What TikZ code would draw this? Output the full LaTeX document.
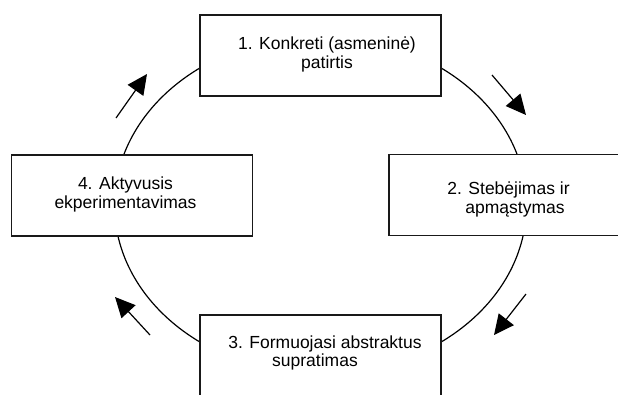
\documentclass[tikz,border=0pt]{standalone}
\usepackage{fontspec}
\setmainfont{Liberation Sans}
\usetikzlibrary{arrows.meta}
\begin{document}
\begin{tikzpicture}[x=1pt,y=-1pt,
  stagebox/.style={draw=black!90, line width=1.3pt, fill=white,
    minimum width=241pt, minimum height=81pt, inner sep=0pt},
  stagetext/.style={align=center, inner sep=0pt,
    font=\fontsize{17.5}{18.5}\selectfont},
  flow/.style={line width=1.2pt, -{Triangle[length=20pt,width=19pt]}}]
\useasboundingbox (0,0) rectangle (618,394);
\clip (0,0) rectangle (618,394);
\fill[white] (0,0) rectangle (618,394);

% the learning cycle
\draw[line width=1.2pt] (320.5,205) ellipse [x radius=206pt, y radius=169pt];

% the four stages
\node[stagebox] (concrete) at (320.5,55.5) {};
\node[stagebox] (reflect)  at (509.5,195)  {};
\node[stagebox] (abstract) at (320.5,355.5) {};
\node[stagebox] (active)   at (132,195.5)  {};

\node[stagetext] (concretetxt) at (327,54.5)  {1. Konkreti (asmeninė)\\patirtis};
\node[stagetext] (reflecttxt)  at (508.5,199.5) {2. Stebėjimas ir\\\hspace*{13pt}apmąstymas};
\node[stagetext] (abstracttxt) at (325,353)   {3. Formuojasi abstraktus\\supratimas\hspace*{20pt}};
\node[stagetext] (activetxt)   at (125.5,194.5) {4. Aktyvusis\\ekperimentavimas};

% direction of the cycle
\coordinate (a1s) at (492,75);  \coordinate (a1e) at (526,115);
\coordinate (a2s) at (526,294); \coordinate (a2e) at (494,335);
\coordinate (a3s) at (150,335); \coordinate (a3e) at (115,297);
\coordinate (a4s) at (116,118); \coordinate (a4e) at (147,74);
\draw[flow] (a1s) -- (a1e);
\draw[flow] (a2s) -- (a2e);
\draw[flow] (a3s) -- (a3e);
\draw[flow] (a4s) -- (a4e);
\end{tikzpicture}
\end{document}
